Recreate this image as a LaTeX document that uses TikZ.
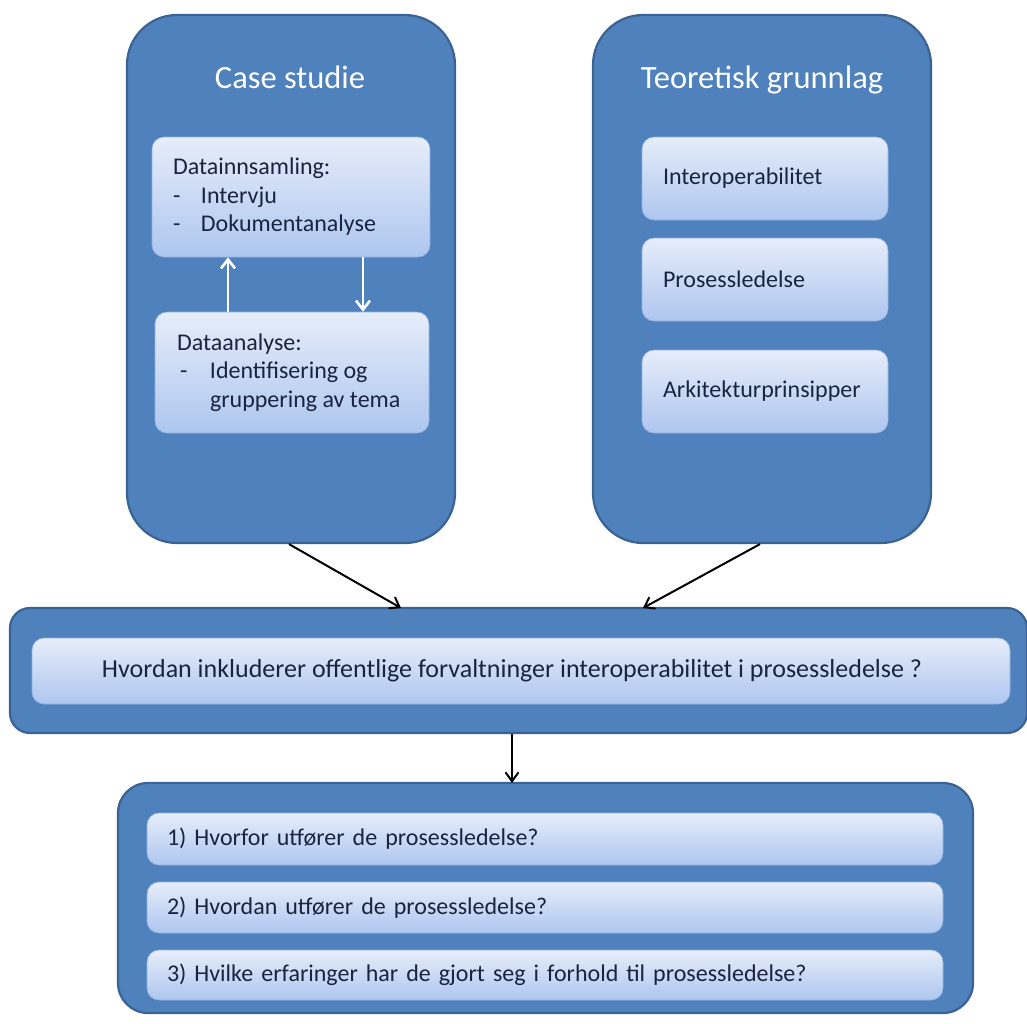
\documentclass[tikz,border=0pt]{standalone}
\usepackage{fontspec}
\setmainfont{Carlito}
\usetikzlibrary{arrows.meta}
\definecolor{outerfill}{HTML}{4F81BD}
\definecolor{outerdraw}{HTML}{3A6394}
\definecolor{innertop}{HTML}{E6EDFA}
\definecolor{innerbot}{HTML}{AEC6EF}
\definecolor{txt}{HTML}{1A2440}
\begin{document}
\begin{tikzpicture}[x=1pt,y=-1pt,
  outerbox/.style={draw=outerdraw, line width=2.2pt, fill=outerfill, rounded corners=#1, inner sep=0pt},
  innerbox/.style={draw=innerbot!70!outerfill, line width=0.6pt, top color=innertop, bottom color=innerbot,
    rounded corners=12pt, inner sep=0pt, text=txt, font=\fontsize{24}{28.5}\selectfont},
  title/.style={text=white, font=\fontsize{32.5}{38}\selectfont, inner sep=0pt},
  blackarrow/.style={line width=2pt, black, -{Straight Barb[length=9pt,width=13pt,line width=2pt]}},
  whitearrow/.style={line width=2.6pt, white, -{Straight Barb[length=9pt,width=14pt,line width=2.6pt]}}
]
\useasboundingbox (0,0) rectangle (1027,1023);
\fill[white] (0,0) rectangle (1027,1023);

% big outer boxes
\node[outerbox=50pt, minimum width=328pt, minimum height=528pt] (cs) at (291,279) {};
\node[outerbox=50pt, minimum width=338pt, minimum height=528pt] (tg) at (762,279) {};
\node[title] (cst) at (290,77) {Case studie};
\node[title] (tgt) at (762,80) {Teoretisk grunnlag};

% left inner boxes
\node[innerbox, minimum width=278pt, minimum height=120pt] (di) at (291,197)
  {\raisebox{-5pt}{\parbox{236pt}{Datainnsamling:\\\makebox[28pt][l]{-}Intervju\\\makebox[28pt][l]{-}Dokumentanalyse}}};
\node[innerbox, minimum width=274pt, minimum height=121pt] (da) at (292,372.5)
  {\raisebox{-2pt}{\parbox{230pt}{Dataanalyse:\\\makebox[33pt][l]{\hspace{3pt}-}Identifisering og\\\hspace*{33pt}gruppering av tema}}};

\draw[whitearrow] ([xshift=-64pt]da.north) -- ([xshift=-63pt]di.south);
\draw[whitearrow] ([xshift=72pt]di.south) -- ([xshift=71pt]da.north);

% right inner boxes
\node[innerbox, minimum width=246pt, minimum height=83pt, text width=204pt, align=left] (i1) at (765,178.5) {Interoperabilitet};
\node[innerbox, minimum width=246pt, minimum height=83pt, text width=204pt, align=left] (i2) at (765,279.5) {Prosessledelse};
\node[innerbox, minimum width=246pt, minimum height=83pt, text width=204pt, align=left] (i3) at (765,391.5) {Arkitekturprinsipper};

% middle question
\node[outerbox=20pt, minimum width=1017pt, minimum height=125pt] (q) at (518.5,670.5) {};
\node[innerbox, minimum width=978pt, minimum height=66pt, font=\fontsize{26}{30}\selectfont] (qi) at (521,671)
  {\makebox[0pt]{\hspace{-18pt}Hvordan inkluderer offentlige forvaltninger interoperabilitet i prosessledelse ?}};

% bottom sub-questions
\node[outerbox=30pt, minimum width=855pt, minimum height=230pt] (r) at (545.5,898) {};
\node[innerbox, minimum width=796pt, minimum height=52pt, text width=756pt, align=left] (r1) at (545,839) {1) Hvorfor utfører de prosessledelse?};
\node[innerbox, minimum width=796pt, minimum height=51pt, text width=756pt, align=left] (r2) at (545,907.5) {2) Hvordan utfører de prosessledelse?};
\node[innerbox, minimum width=796pt, minimum height=50pt, text width=756pt, align=left] (r3) at (545,975) {3) Hvilke erfaringer har de gjort seg i forhold til prosessledelse?};

% connectors
\coordinate (qa1) at (401,608);
\coordinate (qa2) at (643,608);
\coordinate (rt) at (512,783);
\draw[blackarrow] ([xshift=-2pt]cs.south) -- (qa1);
\draw[blackarrow] ([xshift=-2pt]tg.south) -- (qa2);
\draw[blackarrow] (q.south -| rt) -- (rt);
\end{tikzpicture}
\end{document}
